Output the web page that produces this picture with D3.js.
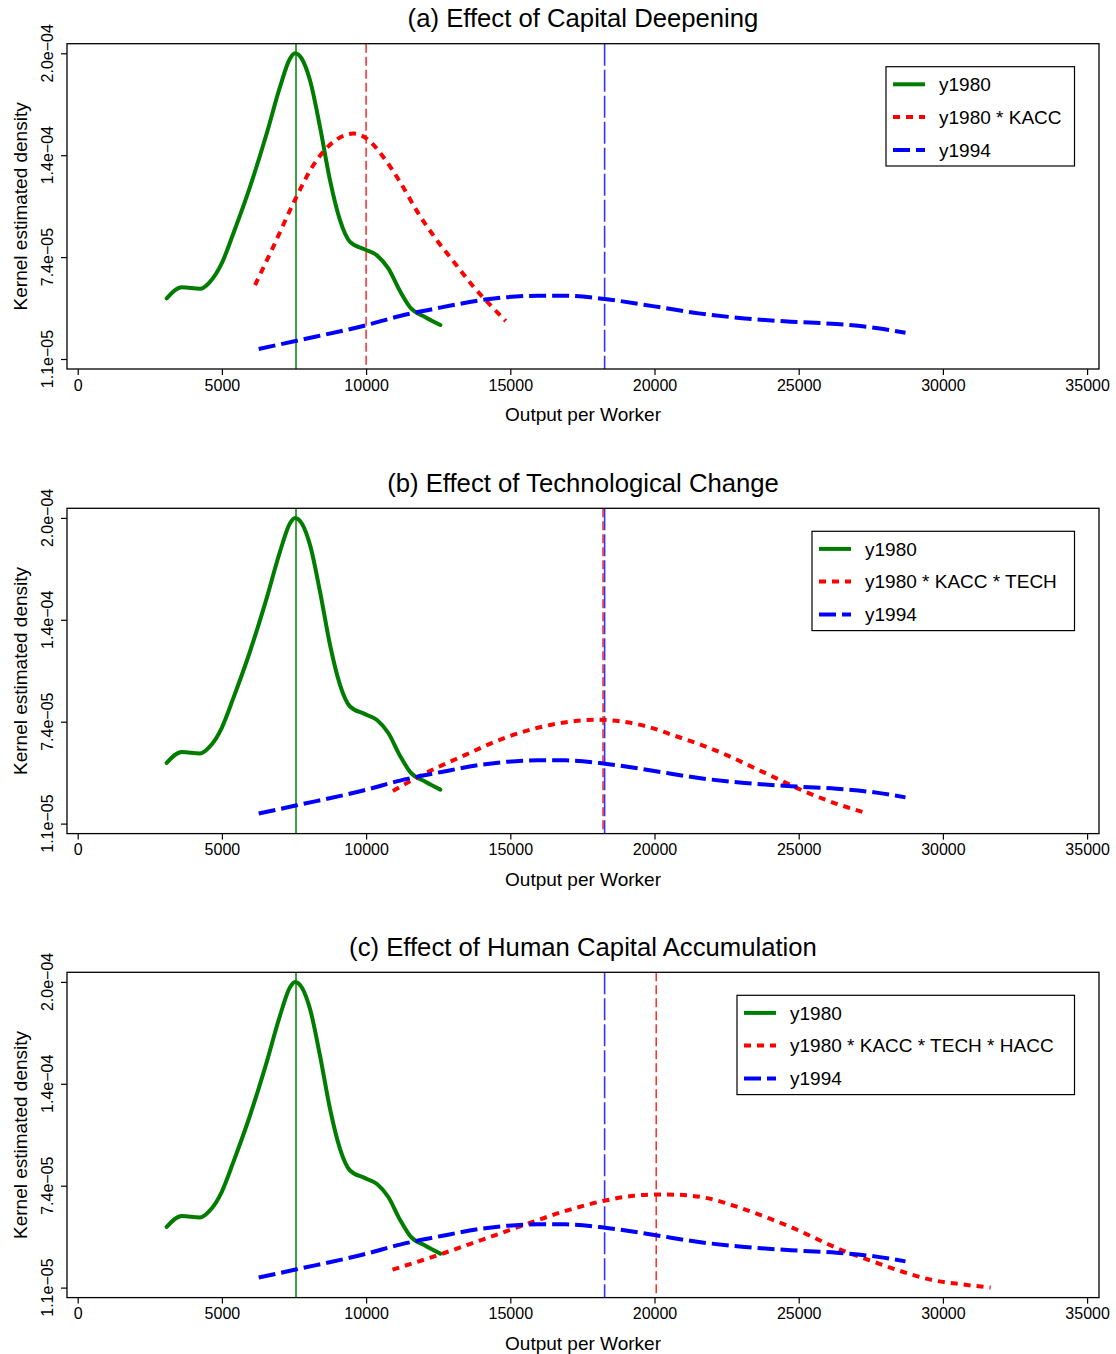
<!DOCTYPE html>
<html>
<head>
<meta charset="utf-8">
<script src="https://cdn.jsdelivr.net/npm/d3@7"></script>
<style>
  html, body { margin: 0; padding: 0; background: #fff; }
  svg { display: block; font-family: "Liberation Sans", Arial, Helvetica, sans-serif; }
</style>
</head>
<body>
<svg id="chart" width="1116" height="1354"></svg>
<script>
// Kernel density estimates of output per worker (x in output units, y in density)

const panelTitles = [
  "(a) Effect of Capital Deepening",
  "(b) Effect of Technological Change",
  "(c) Effect of Human Capital Accumulation"
];
const counterfactualNames = [
  "y1980 * KACC",
  "y1980 * KACC * TECH",
  "y1980 * KACC * TECH * HACC"
];

const xTicks = [0, 5000, 10000, 15000, 20000, 25000, 30000, 35000];
const yTickValues = [1.1e-5, 7.4e-5, 1.37e-4, 2.0e-4];
const yTickLabels = ["1.1e\u221205", "7.4e\u221205", "1.4e\u221204", "2.0e\u221204"];

// y1980 density
const y1980X = [3086, 3606, 4241, 4587, 4993, 5396, 5974, 6553, 7015, 7361, 7535, 7767, 8055, 8401, 8748, 9095, 9442, 9962, 10367, 10770, 11175, 11547, 12042, 12574];
const y1980D = [4.85e-5, 5.53e-5, 5.44e-5, 5.87e-5, 7.01e-5, 8.86e-5, 1.174e-4, 1.504e-4, 1.792e-4, 1.967e-4, 2.0e-4, 1.967e-4, 1.833e-4, 1.545e-4, 1.216e-4, 9.68e-5, 8.34e-5, 7.87e-5, 7.52e-5, 6.70e-5, 5.30e-5, 4.25e-5, 3.70e-5, 3.20e-5];

// y1994 density
const y1994X = [6276, 7594, 10021, 11175, 12611, 14202, 15957, 16911, 18346, 19942, 21533, 23128, 24720, 26314, 27750, 28703];
const y1994D = [1.72e-5, 2.23e-5, 3.20e-5, 3.76e-5, 4.29e-5, 4.79e-5, 5.01e-5, 5.01e-5, 4.79e-5, 4.37e-5, 3.92e-5, 3.61e-5, 3.41e-5, 3.26e-5, 3.00e-5, 2.72e-5];

// Counterfactual densities
const kaccX = [6148, 6782, 7476, 8169, 8863, 9556, 10021, 10597, 11175, 11813, 12451, 13086, 13724, 14362, 14840];
const kaccD = [5.67e-5, 8.04e-5, 1.072e-4, 1.308e-4, 1.452e-4, 1.504e-4, 1.473e-4, 1.359e-4, 1.205e-4, 1.01e-4, 8.45e-5, 7.01e-5, 5.57e-5, 4.33e-5, 3.45e-5];

const techX = [10929, 11796, 13405, 14889, 16623, 17466, 18079, 18946, 19810, 20673, 21658, 22524, 23388, 24251, 25114, 25978, 27212];
const techD = [3.11e-5, 3.98e-5, 5.32e-5, 6.45e-5, 7.28e-5, 7.48e-5, 7.52e-5, 7.39e-5, 7.07e-5, 6.55e-5, 5.94e-5, 5.32e-5, 4.60e-5, 3.88e-5, 3.16e-5, 2.54e-5, 1.82e-5];

const haccX = [10915, 12361, 13963, 15444, 16700, 18204, 19192, 20055, 20794, 21907, 22892, 24005, 24990, 25853, 26595, 27458, 28447, 29681, 30666, 31654];
const haccD = [2.21e-5, 3.03e-5, 4.02e-5, 4.95e-5, 5.72e-5, 6.45e-5, 6.76e-5, 6.86e-5, 6.84e-5, 6.60e-5, 6.08e-5, 5.36e-5, 4.64e-5, 3.92e-5, 3.34e-5, 2.79e-5, 2.17e-5, 1.55e-5, 1.30e-5, 1.10e-5];

// Means marked by vertical lines
const meanY1980 = 7570;
const meanY1994 = 18270;
const counterfactualMeans = [10000, 18215, 20060];

const counterfactualX = [kaccX, techX, haccX];
const counterfactualD = [kaccD, techD, haccD];

// Styles
const GREEN = "#007d00", RED = "#ff0000", BLUE = "#0000ff";
const RED_DASH = "7,6", BLUE_DASH = "17,6";
const CURVE_W = 4;

const svg = d3.select("#chart");
const panelOffsets = [0, 464.6, 928.6];
const box = { left: 67, right: 1099, top: 43.7, bottom: 369 };
const legendLefts = [886, 812, 737];

const x = d3.scaleLinear().domain([0, 35000]).range([77.7, 1087.1]);
const y = d3.scaleLinear().domain([1.1e-5, 2.0e-4]).range([359, 53.3]);

const line = d3.line()
  .x(d => x(d[0]))
  .y(d => y(d[1]))
  .curve(d3.curveMonotoneX);

const zip = (a, b) => a.map((v, i) => [v, b[i]]);

panelTitles.forEach((title, p) => {
  const g = svg.append("g").attr("transform", `translate(0,${panelOffsets[p]})`);

  // Title
  g.append("text")
    .attr("x", (box.left + box.right) / 2)
    .attr("y", 27)
    .attr("text-anchor", "middle")
    .attr("font-size", 25.7)
    .attr("fill", "#000")
    .text(title);

  // Vertical mean lines
  g.append("line")
    .attr("x1", x(meanY1980)).attr("x2", x(meanY1980))
    .attr("y1", box.top).attr("y2", box.bottom)
    .attr("stroke", GREEN).attr("stroke-width", 2).attr("stroke-opacity", 0.75);
  g.append("line")
    .attr("x1", x(counterfactualMeans[p])).attr("x2", x(counterfactualMeans[p]))
    .attr("y1", box.top).attr("y2", box.bottom)
    .attr("stroke", RED).attr("stroke-width", 1.6).attr("stroke-opacity", 0.8)
    .attr("stroke-dasharray", "9,4");
  g.append("line")
    .attr("x1", x(meanY1994)).attr("x2", x(meanY1994))
    .attr("y1", box.top).attr("y2", box.bottom)
    .attr("stroke", BLUE).attr("stroke-width", 1.6).attr("stroke-opacity", 0.8)
    .attr("stroke-dasharray", "22,4");

  // Density curves
  g.append("path")
    .datum(zip(y1980X, y1980D))
    .attr("d", line)
    .attr("fill", "none").attr("stroke", GREEN).attr("stroke-width", CURVE_W)
    .attr("stroke-linejoin", "round").attr("stroke-linecap", "round");
  g.append("path")
    .datum(zip(counterfactualX[p], counterfactualD[p]))
    .attr("d", line)
    .attr("fill", "none").attr("stroke", RED).attr("stroke-width", CURVE_W)
    .attr("stroke-dasharray", RED_DASH);
  g.append("path")
    .datum(zip(y1994X, y1994D))
    .attr("d", line)
    .attr("fill", "none").attr("stroke", BLUE).attr("stroke-width", CURVE_W)
    .attr("stroke-dasharray", BLUE_DASH);

  // Plot frame
  g.append("rect")
    .attr("x", box.left).attr("y", box.top)
    .attr("width", box.right - box.left).attr("height", box.bottom - box.top)
    .attr("fill", "none").attr("stroke", "#000").attr("stroke-width", 1.3);

  // X axis
  const xAxis = g.append("g")
    .attr("transform", `translate(0,${box.bottom})`)
    .call(d3.axisBottom(x).tickValues(xTicks).tickFormat(d3.format("d")).tickSize(6).tickPadding(4.3));
  xAxis.select(".domain").remove();
  xAxis.selectAll(".tick line").attr("stroke", "#000").attr("stroke-width", 1.2);
  xAxis.selectAll(".tick text")
    .attr("font-size", 16).attr("fill", "#000")
    .attr("font-family", "Liberation Sans, Arial, sans-serif");

  // Y axis (rotated labels)
  const yAxis = g.append("g")
    .attr("transform", `translate(${box.left},0)`)
    .call(d3.axisLeft(y).tickValues(yTickValues).tickSize(6).tickFormat(""));
  yAxis.select(".domain").remove();
  yAxis.selectAll(".tick line").attr("stroke", "#000").attr("stroke-width", 1.2);
  yTickValues.forEach((v, i) => {
    g.append("text")
      .attr("transform", `translate(52.7,${y(v)}) rotate(-90)`)
      .attr("text-anchor", "middle")
      .attr("font-size", 16)
      .attr("fill", "#000")
      .text(yTickLabels[i]);
  });

  // Axis titles
  g.append("text")
    .attr("x", (box.left + box.right) / 2)
    .attr("y", 421.3)
    .attr("text-anchor", "middle")
    .attr("font-size", 19)
    .attr("fill", "#000")
    .text("Output per Worker");
  g.append("text")
    .attr("transform", `translate(26.5,${(box.top + box.bottom) / 2}) rotate(-90)`)
    .attr("text-anchor", "middle")
    .attr("font-size", 19)
    .attr("fill", "#000")
    .text("Kernel estimated density");

  // Legend
  const entries = [
    { label: "y1980", color: GREEN, dash: null },
    { label: counterfactualNames[p], color: RED, dash: RED_DASH },
    { label: "y1994", color: BLUE, dash: BLUE_DASH }
  ];
  const rowY = [84.3, 117, 150];
  const legendRight = 1074.5;
  const legendLeft = legendLefts[p];
  const lg = g.append("g");
  lg.append("rect")
    .attr("x", legendLeft).attr("y", 66.7)
    .attr("width", legendRight - legendLeft).attr("height", 166 - 66.7)
    .attr("fill", "#fff").attr("stroke", "#000").attr("stroke-width", 1.2);
  entries.forEach((e, i) => {
    const l = lg.append("line")
      .attr("x1", legendLeft + 7).attr("x2", legendLeft + 39)
      .attr("y1", rowY[i]).attr("y2", rowY[i])
      .attr("stroke", e.color).attr("stroke-width", CURVE_W);
    if (e.dash) l.attr("stroke-dasharray", e.dash);
    lg.append("text")
      .attr("x", legendLeft + 53)
      .attr("y", rowY[i] + 6.8)
      .attr("font-size", 19)
      .attr("fill", "#000")
      .text(e.label);
  });
});
</script>
</body>
</html>
